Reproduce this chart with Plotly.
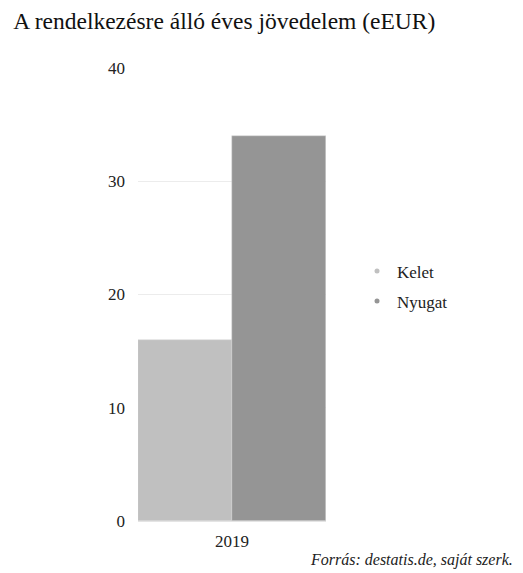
import plotly.graph_objects as go

categories = ["2019"]
series_names = ["Kelet", "Nyugat"]
kelet = [16]
nyugat = [34]
colors = ["#c0c0c0", "#959595"]

fig = go.Figure()
for name, vals, col in zip(series_names, [kelet, nyugat], colors):
    fig.add_trace(go.Bar(x=categories, y=vals, name=name,
                         marker=dict(color=col, line=dict(color="#d8d8d8", width=0.5)),
                         showlegend=False))
    fig.add_trace(go.Scatter(x=[None], y=[None], mode="markers", name=name, legendgroup=name,
                             marker=dict(color=col, size=5)))

font = "Liberation Serif, Times New Roman, serif"
fig.update_layout(
    width=515, height=565,
    margin=dict(l=130, r=197, t=60, b=52),
    paper_bgcolor="white", plot_bgcolor="white",
    barmode="group", bargap=0, bargroupgap=0,
    font=dict(family=font, size=17, color="#222222"),
    title=dict(text="A rendelkezésre álló éves jövedelem (eEUR)", x=0.01, xanchor="left",
               y=0.978, yanchor="middle", font=dict(family=font, size=23.5, color="#111111")),
    yaxis=dict(range=[0, 40], dtick=10, showgrid=True, gridcolor="#ececec", gridwidth=1,
               zeroline=False, showline=False, ticks="", ticklabelstandoff=12,
               tickfont=dict(family=font, size=17)),
    xaxis=dict(showgrid=False, showline=True, linecolor="#e4e4e4", ticks="",
               ticklabelstandoff=5, tickfont=dict(family=font, size=17)),
    legend=dict(x=1.165, y=0.518, xanchor="left", yanchor="middle",
                font=dict(family=font, size=17),
                itemwidth=30, tracegroupgap=5, bgcolor="rgba(0,0,0,0)"),
    annotations=[dict(text="<i>Forrás: destatis.de, saját szerk.</i>", xref="paper", yref="paper",
                      x=2.005, y=-0.086, xanchor="right", yanchor="middle",
                      showarrow=False, font=dict(size=16, family=font, color="#222222"))],
)

fig.write_html("out.html")
